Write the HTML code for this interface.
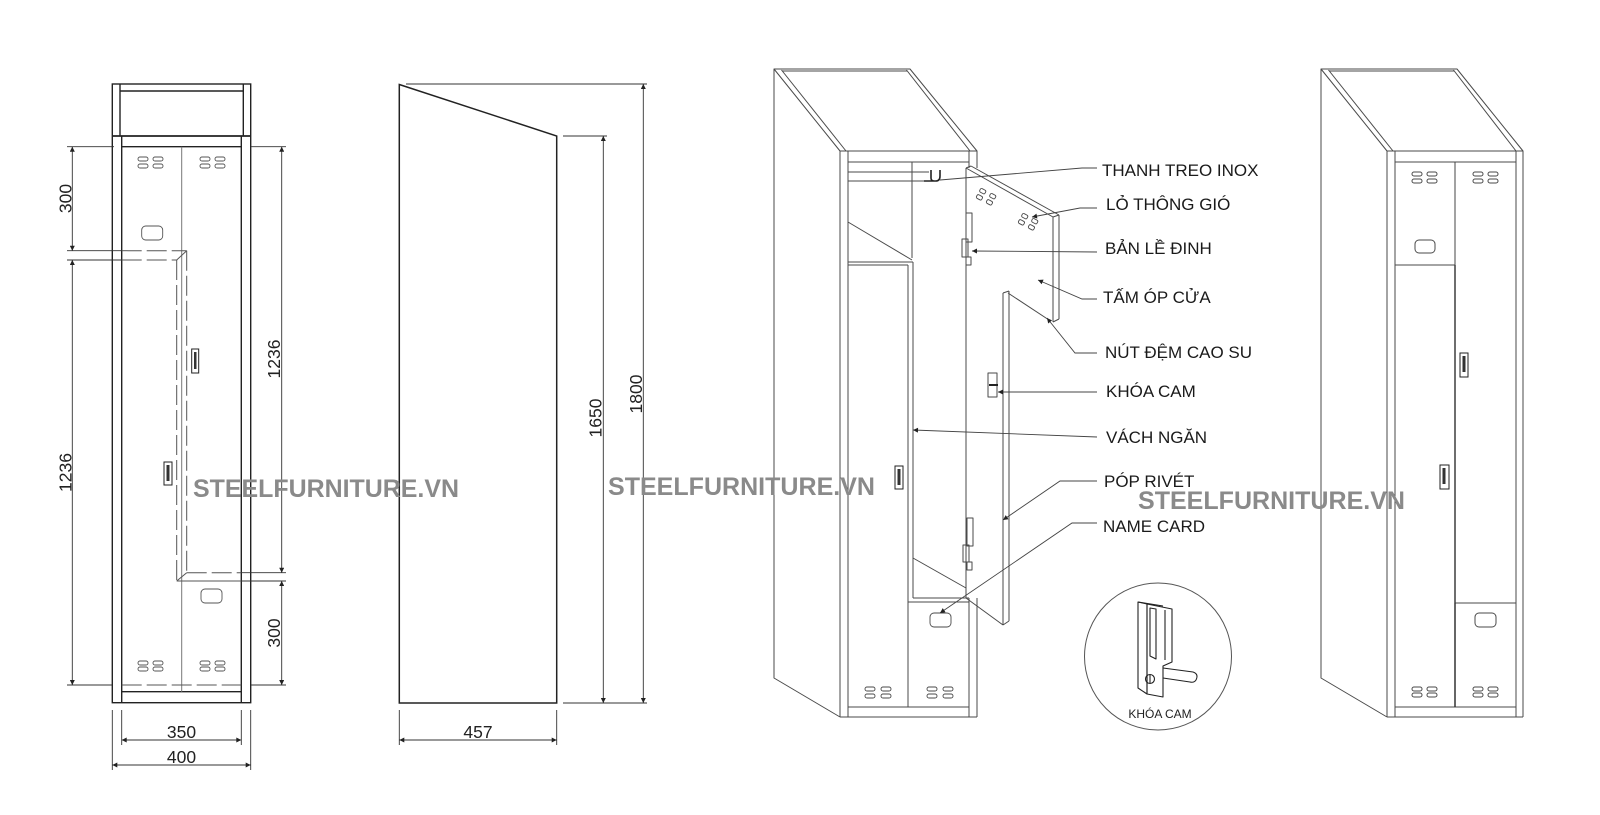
<!DOCTYPE html>
<html><head><meta charset="utf-8"><style>
html,body{margin:0;padding:0;background:#fff;}
svg{display:block;}
text{font-family:"Liberation Sans",Arial,sans-serif;}
</style></head><body>
<svg width="1600" height="815" viewBox="0 0 1600 815" xmlns="http://www.w3.org/2000/svg">
<rect width="1600" height="815" fill="#fff"/>
<defs>
<marker id="a" viewBox="0 0 10 10" refX="10" refY="5" markerWidth="7" markerHeight="5" orient="auto-start-reverse" markerUnits="userSpaceOnUse"><path d="M0,0 L10,5 L0,10 z" fill="#222"/></marker>
</defs>

<!-- ============ FRONT VIEW ============ -->
<g stroke="#222" stroke-width="1.4" fill="none">
  <rect x="112.3" y="84" width="138.4" height="618.7"/>
  <line x1="120" y1="84" x2="120" y2="136"/>
  <line x1="243.3" y1="84" x2="243.3" y2="136"/>
  <line x1="120" y1="91" x2="243.3" y2="91"/>
  <line x1="112.3" y1="136" x2="250.7" y2="136" stroke-width="1.8"/>
  <line x1="121.7" y1="136" x2="121.7" y2="702.7"/>
  <line x1="241.3" y1="136" x2="241.3" y2="702.7"/>
  <line x1="121.7" y1="146.7" x2="241.3" y2="146.7"/>
  <line x1="121.7" y1="691.7" x2="241.3" y2="691.7"/>
</g>
<g stroke="#777" stroke-width="1" fill="none">
  <line x1="181.7" y1="146.7" x2="181.7" y2="691.7"/>
</g>
<g stroke="#555" stroke-width="1" fill="none" stroke-dasharray="20,5">
  <line x1="121.7" y1="250.7" x2="186.7" y2="250.7"/>
  <line x1="121.7" y1="260" x2="176.7" y2="260"/>
  <line x1="176.7" y1="260" x2="176.7" y2="581"/>
  <line x1="186.7" y1="250.7" x2="186.7" y2="572.7"/>
  <line x1="186.7" y1="572.7" x2="241.3" y2="572.7"/>
  <line x1="121.7" y1="685" x2="241.3" y2="685"/>
</g>
<g stroke="#555" stroke-width="1" fill="none">
  <line x1="176.7" y1="260" x2="186.7" y2="250.7"/>
  <line x1="176.7" y1="581" x2="186.7" y2="572.7"/>
  <line x1="176.7" y1="581" x2="241.3" y2="581"/>
</g>
<!-- vents front -->
<g stroke="#555" stroke-width="0.9" fill="none">
  <rect x="138" y="157" width="10" height="4" rx="2"/><rect x="153" y="157" width="10" height="4" rx="2"/>
  <rect x="138" y="164" width="10" height="4" rx="2"/><rect x="153" y="164" width="10" height="4" rx="2"/>
  <rect x="200" y="157" width="10" height="4" rx="2"/><rect x="215" y="157" width="10" height="4" rx="2"/>
  <rect x="200" y="164" width="10" height="4" rx="2"/><rect x="215" y="164" width="10" height="4" rx="2"/>
  <rect x="138" y="661" width="10" height="4" rx="2"/><rect x="153" y="661" width="10" height="4" rx="2"/>
  <rect x="138" y="667" width="10" height="4" rx="2"/><rect x="153" y="667" width="10" height="4" rx="2"/>
  <rect x="200" y="661" width="10" height="4" rx="2"/><rect x="215" y="661" width="10" height="4" rx="2"/>
  <rect x="200" y="667" width="10" height="4" rx="2"/><rect x="215" y="667" width="10" height="4" rx="2"/>
  <rect x="141.7" y="226" width="21" height="14" rx="4"/>
  <rect x="201" y="589" width="21" height="14" rx="4"/>
</g>
<g stroke="#222" stroke-width="1" fill="none">
  <rect x="191.7" y="349" width="7" height="24"/>
  <rect x="164" y="462" width="8" height="23"/>
</g>
<rect x="194" y="352" width="2.5" height="17" fill="#333"/>
<rect x="166.5" y="465" width="3" height="16" fill="#333"/>

<!-- front view dimensions -->
<g stroke="#333" stroke-width="0.9" fill="none">
  <line x1="67" y1="146.7" x2="114" y2="146.7"/>
  <line x1="67" y1="250.7" x2="121.7" y2="250.7"/>
  <line x1="67" y1="260" x2="121.7" y2="260"/>
  <line x1="67" y1="685" x2="112" y2="685"/>
  <line x1="72.3" y1="146.7" x2="72.3" y2="250.7" marker-start="url(#a)" marker-end="url(#a)"/>
  <line x1="72.3" y1="260" x2="72.3" y2="685" marker-start="url(#a)" marker-end="url(#a)"/>
  <line x1="251" y1="146.7" x2="286" y2="146.7"/>
  <line x1="241.3" y1="572.7" x2="286" y2="572.7"/>
  <line x1="241.3" y1="581" x2="286" y2="581"/>
  <line x1="251" y1="685" x2="286" y2="685"/>
  <line x1="281.7" y1="146.7" x2="281.7" y2="572.7" marker-start="url(#a)" marker-end="url(#a)"/>
  <line x1="281.7" y1="581" x2="281.7" y2="685" marker-start="url(#a)" marker-end="url(#a)"/>
  <line x1="121.7" y1="710" x2="121.7" y2="745"/>
  <line x1="241.3" y1="710" x2="241.3" y2="745"/>
  <line x1="112.3" y1="710" x2="112.3" y2="770"/>
  <line x1="250.7" y1="710" x2="250.7" y2="770"/>
  <line x1="121.7" y1="740" x2="241.3" y2="740" marker-start="url(#a)" marker-end="url(#a)"/>
  <line x1="112.3" y1="765" x2="250.7" y2="765" marker-start="url(#a)" marker-end="url(#a)"/>
</g>
<g font-size="17.5" fill="#222" text-anchor="middle">
  <text transform="translate(71.5,198.5) rotate(-90)">300</text>
  <text transform="translate(71.5,472.5) rotate(-90)">1236</text>
  <text transform="translate(280,359) rotate(-90)">1236</text>
  <text transform="translate(280,633) rotate(-90)">300</text>
  <text x="181.5" y="738">350</text>
  <text x="181.5" y="763">400</text>
</g>

<!-- ============ SIDE VIEW ============ -->
<g stroke="#222" stroke-width="1.5" fill="none">
  <polygon points="399.3,84.5 556.7,136 556.7,703 399.3,703"/>
</g>
<g stroke="#333" stroke-width="0.9" fill="none">
  <line x1="406" y1="84" x2="647" y2="84"/>
  <line x1="563" y1="136" x2="607" y2="136"/>
  <line x1="563" y1="703" x2="647" y2="703"/>
  <line x1="603.3" y1="136" x2="603.3" y2="703" marker-start="url(#a)" marker-end="url(#a)"/>
  <line x1="643.3" y1="84" x2="643.3" y2="703" marker-start="url(#a)" marker-end="url(#a)"/>
  <line x1="399.3" y1="710" x2="399.3" y2="745"/>
  <line x1="556.7" y1="710" x2="556.7" y2="745"/>
  <line x1="399.3" y1="740" x2="556.7" y2="740" marker-start="url(#a)" marker-end="url(#a)"/>
</g>
<g font-size="17.5" fill="#222" text-anchor="middle">
  <text transform="translate(601.5,418) rotate(-90)">1650</text>
  <text transform="translate(642,394) rotate(-90)">1800</text>
  <text x="478" y="738">457</text>
</g>

<!-- ============ OPEN LOCKER (3D) ============ -->
<g stroke="#4a4a4a" stroke-width="1" fill="none" stroke-linejoin="round">
  <!-- lid -->
  <polygon points="774,69 910,69 977,151 840,151"/>
  <line x1="782" y1="71" x2="907" y2="71"/>
  <line x1="781.5" y1="70" x2="846" y2="151"/>
  <line x1="906.5" y1="70" x2="970" y2="151"/>
  <!-- side -->
  <polyline points="774,69 774,678 840,717"/>
  <!-- posts -->
  <line x1="840" y1="151" x2="840" y2="717"/>
  <line x1="848" y1="151" x2="848" y2="717"/>
  <line x1="969" y1="151" x2="969" y2="168"/>
  <line x1="977" y1="151" x2="977" y2="168"/>
  <line x1="969" y1="598" x2="969" y2="717"/>
  <line x1="977" y1="598" x2="977" y2="717"/>
  <line x1="848" y1="162" x2="969" y2="162"/>
  <line x1="848" y1="707" x2="969" y2="707"/>
  <line x1="840" y1="717" x2="977" y2="717"/>
  <!-- hanging bar -->
  <line x1="848" y1="172" x2="929" y2="172"/>
  <line x1="848" y1="181" x2="929" y2="181"/>
  <!-- partition & shelf -->
  <line x1="912" y1="162" x2="912" y2="258"/>
  <line x1="848" y1="222" x2="912" y2="260"/>
  <!-- lower left door -->
  <line x1="848" y1="262" x2="913" y2="262"/>
  <line x1="848" y1="265" x2="908" y2="265"/>
  <line x1="913" y1="262" x2="913" y2="598"/>
  <line x1="908" y1="265" x2="908" y2="707"/>
  <line x1="913" y1="558" x2="966" y2="588"/>
  <line x1="913" y1="598" x2="969" y2="598"/>
  <line x1="908" y1="602" x2="969" y2="602"/>
  <!-- open door -->
  <line x1="966" y1="168" x2="966" y2="598"/>
  <line x1="966" y1="168" x2="1053" y2="217"/>
  <line x1="971" y1="166" x2="1059" y2="215"/>
  <line x1="966" y1="168" x2="971" y2="166"/>
  <line x1="1053" y1="217" x2="1059" y2="215"/>
  <line x1="1053" y1="217" x2="1053" y2="322"/>
  <line x1="1059" y1="215" x2="1059" y2="319"/>
  <line x1="1053" y1="322" x2="1059" y2="319"/>
  <line x1="1003" y1="293" x2="1003" y2="625"/>
  <line x1="1009" y1="291" x2="1009" y2="621"/>
  <line x1="1003" y1="293" x2="1009" y2="291"/>
  <line x1="1008" y1="293" x2="1049" y2="320"/>
  <line x1="966" y1="598" x2="1003" y2="625"/>
  <line x1="1003" y1="625" x2="1009" y2="621"/>
  <!-- hinges -->
  <rect x="966" y="213" width="6" height="29"/>
  <rect x="962" y="239" width="6" height="18"/>
  <rect x="966" y="257" width="5" height="8"/>
  <rect x="967" y="518" width="6" height="28"/>
  <rect x="963" y="545" width="6" height="17"/>
  <rect x="967" y="562" width="5" height="8"/>
  <!-- lock on door -->
  <rect x="988" y="373" width="9" height="24"/>
</g>
<!-- hook -->
<path d="M924,181 L936,181 Q940,181 940,176 L940,170 M931,170 L931,178 Q931,181 934,181" stroke="#222" stroke-width="1.6" fill="none"/>
<line x1="989" y1="385" x2="998" y2="385" stroke="#222" stroke-width="2"/>
<!-- door vents -->
<g stroke="#4a4a4a" stroke-width="0.9" fill="none">
  <g transform="translate(981,188) rotate(28)"><rect x="0" y="0" width="6" height="4" rx="1.5"/><rect x="0" y="7" width="6" height="4" rx="1.5"/></g>
  <g transform="translate(991,193) rotate(28)"><rect x="0" y="0" width="6" height="4" rx="1.5"/><rect x="0" y="7" width="6" height="4" rx="1.5"/></g>
  <g transform="translate(1023,213) rotate(28)"><rect x="0" y="0" width="6" height="4" rx="1.5"/><rect x="0" y="7" width="6" height="4" rx="1.5"/></g>
  <g transform="translate(1033,218) rotate(28)"><rect x="0" y="0" width="6" height="4" rx="1.5"/><rect x="0" y="7" width="6" height="4" rx="1.5"/></g>
</g>
<!-- lower vents & cards open locker -->
<g stroke="#4a4a4a" stroke-width="0.9" fill="none">
  <rect x="865" y="687" width="10" height="4" rx="2"/><rect x="881" y="687" width="10" height="4" rx="2"/>
  <rect x="865" y="694" width="10" height="4" rx="2"/><rect x="881" y="694" width="10" height="4" rx="2"/>
  <rect x="927" y="687" width="10" height="4" rx="2"/><rect x="943" y="687" width="10" height="4" rx="2"/>
  <rect x="927" y="694" width="10" height="4" rx="2"/><rect x="943" y="694" width="10" height="4" rx="2"/>
  <rect x="930" y="613" width="21" height="14" rx="4"/>
</g>
<rect x="895" y="466" width="8" height="23" fill="none" stroke="#222" stroke-width="1"/>
<rect x="897.5" y="469" width="3" height="16" fill="#333"/>

<!-- leaders -->
<g stroke="#444" stroke-width="0.9" fill="none">
  <polyline points="940,180 1082,168 1097,168"/>
  <polyline points="1032,217 1080,208 1097,208" marker-start="url(#a)"/>
  <polyline points="972,251 1097,252" marker-start="url(#a)"/>
  <polyline points="1038,280 1082,299 1097,299" marker-start="url(#a)"/>
  <polyline points="1047,318 1075,353 1097,353" marker-start="url(#a)"/>
  <polyline points="998,392 1097,392" marker-start="url(#a)"/>
  <polyline points="913,430 1097,437" marker-start="url(#a)"/>
  <polyline points="1003,520 1060,481 1097,481" marker-start="url(#a)"/>
  <polyline points="940,613 1072,523 1097,523" marker-start="url(#a)"/>
</g>
<g font-size="17" fill="#1a1a1a">
  <text x="1102" y="176">THANH TREO INOX</text>
  <text x="1106" y="210">LỎ THÔNG GIÓ</text>
  <text x="1105" y="254">BẢN LỀ ĐINH</text>
  <text x="1103" y="303">TẤM ÓP CỬA</text>
  <text x="1105" y="358">NÚT ĐỆM CAO SU</text>
  <text x="1106" y="397">KHÓA CAM</text>
  <text x="1106" y="443">VÁCH NGĂN</text>
  <text x="1104" y="487">PÓP RIVÉT</text>
  <text x="1103" y="532">NAME CARD</text>
</g>

<!-- circle detail -->
<circle cx="1158" cy="656.5" r="73.5" fill="none" stroke="#555" stroke-width="1"/>
<g stroke="#222" stroke-width="1.1" fill="none" stroke-linejoin="round">
  <polygon points="1138,602 1147,604 1147,694 1138,688"/>
  <polygon points="1147,604 1172,609 1172,662 1163,666 1163,697 1147,694"/>
  <polygon points="1150,608 1156,609 1156,659 1150,656"/>
  <line x1="1165" y1="610" x2="1165" y2="660"/>
  <line x1="1138" y1="602" x2="1163" y2="606"/>
  <path d="M1163,668 L1193,672 Q1199,674 1196,680 Q1194,683 1190,682 L1163,678"/>
  <circle cx="1150" cy="679" r="4.5"/>
  <line x1="1150" y1="675" x2="1150" y2="683"/>
</g>
<text x="1160" y="718" font-size="12" fill="#222" text-anchor="middle">KHÓA CAM</text>

<!-- ============ RIGHT LOCKER (closed) ============ -->
<g stroke="#4a4a4a" stroke-width="1" fill="none" stroke-linejoin="round">
  <polygon points="1321,69 1457,69 1523,151 1387,151"/>
  <line x1="1329" y1="71" x2="1454" y2="71"/>
  <line x1="1328.5" y1="70" x2="1393" y2="151"/>
  <line x1="1453.5" y1="70" x2="1516" y2="151"/>
  <polyline points="1321,69 1321,678 1387,717"/>
  <line x1="1387" y1="151" x2="1387" y2="717"/>
  <line x1="1395" y1="151" x2="1395" y2="717"/>
  <line x1="1516" y1="151" x2="1516" y2="717"/>
  <line x1="1523" y1="151" x2="1523" y2="717"/>
  <line x1="1395" y1="162" x2="1516" y2="162"/>
  <line x1="1455" y1="162" x2="1455" y2="707"/>
  <line x1="1395" y1="265" x2="1455" y2="265"/>
  <line x1="1455" y1="603" x2="1516" y2="603"/>
  <line x1="1395" y1="707" x2="1516" y2="707"/>
  <line x1="1387" y1="717" x2="1523" y2="717"/>
  <rect x="1412" y="172" width="10" height="4" rx="2"/><rect x="1427" y="172" width="10" height="4" rx="2"/>
  <rect x="1412" y="179" width="10" height="4" rx="2"/><rect x="1427" y="179" width="10" height="4" rx="2"/>
  <rect x="1473" y="172" width="10" height="4" rx="2"/><rect x="1488" y="172" width="10" height="4" rx="2"/>
  <rect x="1473" y="179" width="10" height="4" rx="2"/><rect x="1488" y="179" width="10" height="4" rx="2"/>
  <rect x="1412" y="687" width="10" height="4" rx="2"/><rect x="1427" y="687" width="10" height="4" rx="2"/>
  <rect x="1412" y="693" width="10" height="4" rx="2"/><rect x="1427" y="693" width="10" height="4" rx="2"/>
  <rect x="1473" y="687" width="10" height="4" rx="2"/><rect x="1488" y="687" width="10" height="4" rx="2"/>
  <rect x="1473" y="693" width="10" height="4" rx="2"/><rect x="1488" y="693" width="10" height="4" rx="2"/>
  <rect x="1415" y="240" width="20" height="13" rx="4"/>
  <rect x="1475" y="613" width="21" height="14" rx="4"/>
</g>
<line x1="1455" y1="265" x2="1455" y2="707" stroke="#333" stroke-width="1.5"/>
<line x1="1455" y1="162" x2="1455" y2="603" stroke="#444" stroke-width="1"/>
<rect x="1460" y="353" width="8" height="24" fill="none" stroke="#222" stroke-width="1"/>
<rect x="1462.5" y="356" width="3" height="16" fill="#333"/>
<rect x="1440" y="465" width="9" height="24" fill="none" stroke="#222" stroke-width="1"/>
<rect x="1442.5" y="468" width="3" height="16" fill="#333"/>

<!-- watermarks -->
<g font-size="25" font-weight="bold" fill="#8a8a8a">
  <text x="193" y="497" textLength="266" lengthAdjust="spacingAndGlyphs">STEELFURNITURE.VN</text>
  <text x="608" y="495" textLength="267" lengthAdjust="spacingAndGlyphs">STEELFURNITURE.VN</text>
  <text x="1138" y="509" textLength="267" lengthAdjust="spacingAndGlyphs">STEELFURNITURE.VN</text>
</g>
</svg>
</body></html>
